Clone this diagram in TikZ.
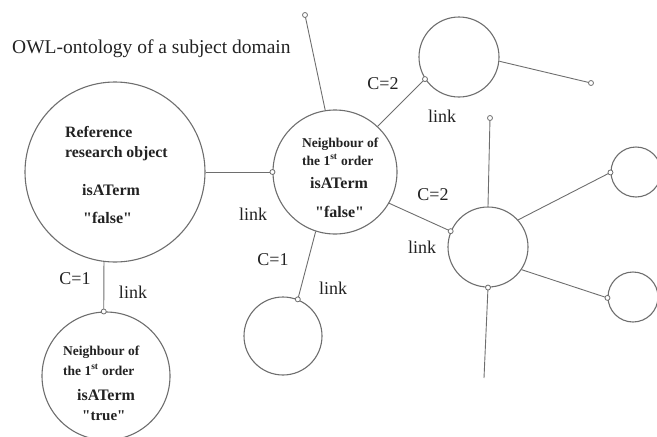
\documentclass[tikz,border=0pt]{standalone}
\usepackage{fontspec}
\setmainfont{Liberation Serif}[Ligatures=TeXOff]
\definecolor{linegray}{HTML}{6E6E6E}
\definecolor{txt}{HTML}{222222}
\tikzset{
  bigc/.style={circle, draw=linegray, line width=1.1pt, inner sep=0pt, minimum size=#1},
  conn/.style={draw=linegray, line width=0.9pt},
  term/.style={circle, draw=linegray, fill=white, line width=0.8pt, inner sep=0pt, minimum size=5pt},
  lbl/.style={font=\fontsize{18}{20}\selectfont, text=txt, inner sep=0pt},
  intext/.style={font=\fontsize{#1}{#1}\selectfont\bfseries, text=txt, inner sep=0pt, anchor=base west},
}
\begin{document}
\begin{tikzpicture}[x=1pt,y=-1pt]
\useasboundingbox (0,0) rectangle (657,437);
% circles
\node[bigc=180pt] (ref) at (115,172) {};
\node[bigc=124pt] (n1) at (335,172) {};
\node[bigc=80pt] (tr) at (459,57) {};
\node[bigc=80pt] (mr) at (488,247) {};
\node[bigc=50pt] (rr1) at (636,172) {};
\node[bigc=50pt] (rr2) at (633,297) {};
\node[bigc=78pt] (bc) at (283,336) {};
\node[bigc=128pt] (bl) at (106,376) {};
% free ends
\coordinate (e1) at (305,15);
\coordinate (e2) at (591,83);
\coordinate (e3) at (490,118);
\coordinate (e4) at (484,378);
% connectors
\draw[conn] (ref.east) -- (n1.west) node[term, pos=1] (t1) {};
\draw[conn] (n1.99) -- (e1) node[term, pos=1] (t2) {};
\draw[conn] (n1.47) -- (tr.213) node[term, pos=1] (t3) {};
\draw[conn] (tr.-6) -- (e2) node[term, pos=1] (t4) {};
\draw[conn] (n1.-30) -- (mr.157) node[term, pos=1] (t5) {};
\draw[conn] (mr.north) -- (e3) node[term, pos=1] (t6) {};
\draw[conn] (e4) -- (mr.south) node[term, pos=1] (t7) {};
\draw[conn] (mr.42) -- (rr1.181) node[term, pos=1] (t8) {};
\draw[conn] (mr.-34) -- (rr2.182) node[term, pos=1] (t9) {};
\draw[conn] (n1.252) -- (bc.68) node[term, pos=1] (t10) {};
\draw[conn] (ref.263) -- (bl.92) node[term, pos=1] (t11) {};
% title
\node[font=\fontsize{19.5}{22}\selectfont, text=txt, anchor=base west, inner sep=0pt] (title) at (12,53) {OWL-ontology of a subject domain};
% reference text
\node[intext=15.8] (r1) at (65,137) {Reference};
\node[intext=15.8] (r2) at (65,157) {research object};
\node[intext=16] (r3) at (82,195) {isATerm};
\node[intext=16] (r4) at (83,223) {"false"};
% neighbour 1 text
\node[intext=13.5] (a1) at (302,147) {Neighbour of};
\node[intext=13.5] (a2) at (302,165) {the 1\textsuperscript{st} order};
\node[intext=16] (a3) at (310,188) {isATerm};
\node[intext=16] (a4) at (315,217) {"false"};
% bottom-left text
\node[intext=13.5] (b1) at (63,355) {Neighbour of};
\node[intext=13.5] (b2) at (63,375) {the 1\textsuperscript{st} order};
\node[intext=16] (b3) at (77,400) {isATerm};
\node[intext=15] (b4) at (82,420) {"true"};
% labels
\node[lbl] (l1) at (253,214) {link};
\node[lbl] (c1) at (273,260) {C=1};
\node[lbl] (l2) at (333,288) {link};
\node[lbl] (c2) at (383,84) {C=2};
\node[lbl] (l3) at (442,116) {link};
\node[lbl] (c3) at (433,195) {C=2};
\node[lbl] (l4) at (422,247) {link};
\node[lbl] (c4) at (75,279) {C=1};
\node[lbl] (l5) at (133,292) {link};
\end{tikzpicture}
\end{document}
